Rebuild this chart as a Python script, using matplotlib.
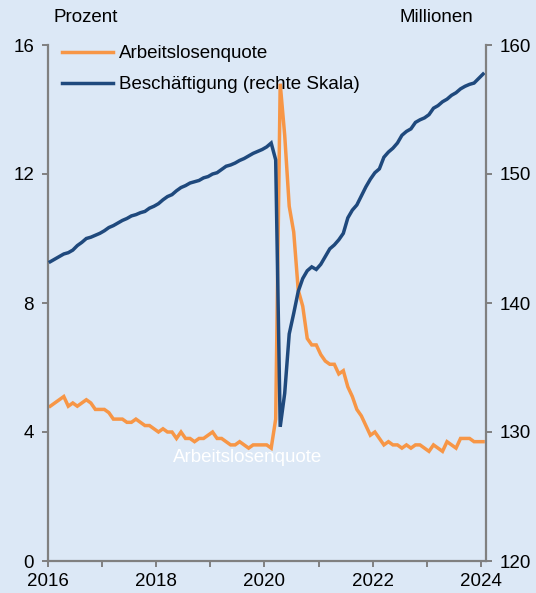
import matplotlib
matplotlib.use("Agg")
import matplotlib.pyplot as plt
import numpy as np
import pandas as pd

plt.rcParams['font.family'] = ['Liberation Sans', 'DejaVu Sans']

# Monthly data Jan 2016 - Jan 2024
months = pd.date_range("2016-01-01", "2024-01-01", freq="MS")

unemployment = [
    4.8, 4.9, 5.0, 5.1, 4.8, 4.9, 4.8, 4.9, 5.0, 4.9, 4.7, 4.7,
    4.7, 4.6, 4.4, 4.4, 4.4, 4.3, 4.3, 4.4, 4.3, 4.2, 4.2, 4.1,
    4.0, 4.1, 4.0, 4.0, 3.8, 4.0, 3.8, 3.8, 3.7, 3.8, 3.8, 3.9,
    4.0, 3.8, 3.8, 3.7, 3.6, 3.6, 3.7, 3.6, 3.5, 3.6, 3.6, 3.6,
    3.6, 3.5, 4.4, 14.8, 13.2, 11.0, 10.2, 8.4, 7.9, 6.9, 6.7, 6.7,
    6.4, 6.2, 6.1, 6.1, 5.8, 5.9, 5.4, 5.1, 4.7, 4.5, 4.2, 3.9,
    4.0, 3.8, 3.6, 3.7, 3.6, 3.6, 3.5, 3.6, 3.5, 3.6, 3.6, 3.5,
    3.4, 3.6, 3.5, 3.4, 3.7, 3.6, 3.5, 3.8, 3.8, 3.8, 3.7, 3.7,
    3.7,
]

employment = [
    143.2, 143.4, 143.6, 143.8, 143.9, 144.1, 144.45, 144.7, 145.0, 145.1, 145.25, 145.4,
    145.6, 145.85, 146.0, 146.2, 146.4, 146.55, 146.75, 146.85, 147.0, 147.1, 147.35, 147.5,
    147.7, 148.0, 148.25, 148.4, 148.7, 148.95, 149.1, 149.3, 149.4, 149.5, 149.7, 149.8,
    150.0, 150.1, 150.35, 150.6, 150.7, 150.85, 151.05, 151.2, 151.4, 151.6, 151.75, 151.9,
    152.1, 152.4, 151.1, 130.4, 133.0, 137.6, 139.2, 140.9, 141.9, 142.5, 142.8, 142.6,
    143.0, 143.6, 144.2, 144.5, 144.9, 145.4, 146.6, 147.2, 147.6, 148.3, 149.0, 149.6,
    150.1, 150.4, 151.3, 151.7, 152.0, 152.4, 153.0, 153.3, 153.5, 154.0, 154.2, 154.35,
    154.6, 155.1, 155.3, 155.6, 155.8, 156.1, 156.3, 156.6, 156.8, 156.95, 157.05, 157.4,
    157.75,
]

left_ticks = [0, 4, 8, 12, 16]
right_ticks = [120, 130, 140, 150, 160]
year_ticks = [2016, 2018, 2020, 2022, 2024]
minor_year_ticks = [2017, 2019, 2021, 2023]

label_u = "Arbeitslosenquote"
label_e = "Beschäftigung (rechte Skala)"

x = months.year + (months.month - 1) / 12 + 1 / 24

bg = "#dce8f6"
orange = "#f79646"
blue = "#1f497d"
grey = "#808080"

W, H = 536, 593
fig = plt.figure(figsize=(W / 100, H / 100), dpi=100, facecolor=bg)
ax = fig.add_axes([48 / W, 1 - 561 / H, (485.7 - 48) / W, (561 - 45) / H])
ax.set_facecolor(bg)
ax2 = ax.twinx()

l1, = ax.plot(x, unemployment, color=orange, lw=2.5, label=label_u, solid_joinstyle="miter")
l2, = ax2.plot(x, employment, color=blue, lw=2.5, label=label_e, solid_joinstyle="miter")

ax.set_xlim(2016, 2024.09)
ax.set_ylim(0, 16)
ax2.set_ylim(120, 160)
ax.set_yticks(left_ticks)
ax2.set_yticks(right_ticks)
ax.set_xticks(year_ticks)
ax.set_xticklabels([str(y) for y in year_ticks])
ax.set_xticks(minor_year_ticks, minor=True)

for a in (ax, ax2):
    for s in a.spines.values():
        s.set_visible(False)
ax.spines['left'].set_visible(True)
ax.spines['bottom'].set_visible(True)
ax2.spines['right'].set_visible(True)
for s in (ax.spines['left'], ax.spines['bottom'], ax2.spines['right']):
    s.set_color(grey)
    s.set_linewidth(1.6)

fs = 13.5
ax.tick_params(axis='y', direction='out', length=4, width=1.4, color=grey,
               labelsize=fs, pad=6, labelcolor='black')
ax2.tick_params(axis='y', direction='out', length=4, width=1.4, color=grey,
                labelsize=fs, pad=6, labelcolor='black')
ax.tick_params(axis='x', which='both', direction='out', length=4, width=1.4, color=grey,
               labelsize=fs, pad=4.5, labelcolor='black')

fig.text(86 / W, 1 - 18 / H, "Prozent", ha='center', va='center', fontsize=fs)
fig.text(436 / W, 1 - 18 / H, "Millionen", ha='center', va='center', fontsize=fs)

ax.text(2019.68, 3.22, label_u, color='white', ha='center', va='center', fontsize=fs)

fig.legend(handles=[l1, l2], loc='upper left', bbox_to_anchor=(62 / W, 1 - 45 / H),
           frameon=False, fontsize=fs, handlelength=2.7, handletextpad=0.35,
           labelspacing=0.75, borderpad=0, borderaxespad=0)

fig.savefig("out.png", dpi=100, facecolor=bg)
